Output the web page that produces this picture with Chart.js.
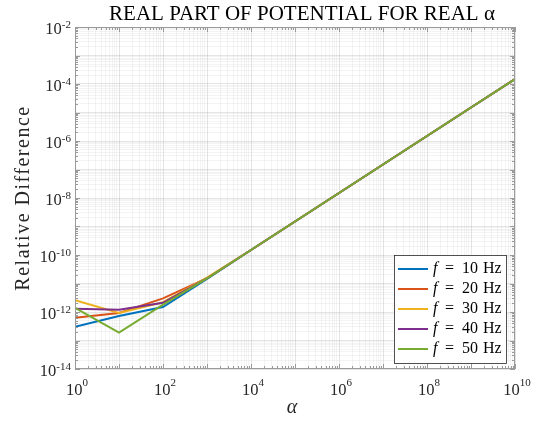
<!DOCTYPE html>
<html>
<head>
<meta charset="utf-8">
<script src="https://cdn.jsdelivr.net/npm/chart.js@4.4.1/dist/chart.umd.min.js"></script>
<style>
  html, body { margin: 0; padding: 0; background: #fff; }
  canvas { display: block; }
</style>
</head>
<body>
<canvas id="grafico" width="540" height="421"></canvas>
<script>
// datos
const alpha = [1, 10, 100, 1e3, 1e4, 1e5, 1e6, 1e7, 1e8, 1e9, 1e10];
const f10 = [3.0e-13, 7.2e-13, 1.5e-12, 1.45e-11, 1.5e-10, 1.5e-9, 1.5e-8, 1.5e-7, 1.5e-6, 1.5e-5, 1.5e-4];
const f20 = [6.3e-13, 9.3e-13, 3.0e-12, 1.55e-11, 1.5e-10, 1.5e-9, 1.5e-8, 1.5e-7, 1.5e-6, 1.5e-5, 1.5e-4];
const f30 = [2.6e-12, 9.3e-13, 2.2e-12, 1.6e-11, 1.5e-10, 1.5e-9, 1.5e-8, 1.5e-7, 1.5e-6, 1.5e-5, 1.5e-4];
const f40 = [1.3e-12, 1.2e-12, 2.1e-12, 1.5e-11, 1.5e-10, 1.5e-9, 1.5e-8, 1.5e-7, 1.5e-6, 1.5e-5, 1.5e-4];
const f50 = [1.4e-12, 1.9e-13, 1.8e-12, 1.5e-11, 1.5e-10, 1.5e-9, 1.5e-8, 1.5e-7, 1.5e-6, 1.5e-5, 1.5e-4];

const etiquetas = ['10', '20', '30', '40', '50'];
const colores = ['#0072BD', '#D95319', '#EDB120', '#7E2F8E', '#77AC30'];
const series = [f10, f20, f30, f40, f50];

const xExpLabels = [0, 2, 4, 6, 8, 10];
const yExpLabels = [-14, -12, -10, -8, -6, -4, -2];

const titulo = 'REAL PART OF POTENTIAL FOR REAL \u03b1';
const tituloY = 'Relative Difference';
const tituloX = '\u03b1';

const SERIF = '"Liberation Serif", "DejaVu Serif", serif';

// ticks log: 1..9 x 10^k
function ticksLog(kMin, kMax) {
  const t = [];
  for (let k = kMin; k < kMax; k++) {
    for (let m = 1; m <= 9; m++) t.push({ value: m * Math.pow(10, k) });
  }
  t.push({ value: Math.pow(10, kMax) });
  return t;
}

function esMayor(v) {
  const l = Math.log10(v);
  return Math.abs(l - Math.round(l)) < 1e-6;
}

const gridColor = (c) => esMayor(c.tick.value) ? 'rgba(0,0,0,0.10)' : 'rgba(0,0,0,0.045)';

// dibuja titulos, etiquetas 10^n, ticks internos y la leyenda
const decoracion = {
  id: 'decoracion',
  afterDraw(chart) {
    const { ctx, chartArea: a, scales } = chart;
    const sx = scales.x, sy = scales.y;
    ctx.save();

    // marco
    ctx.strokeStyle = '#9a9a9a';
    ctx.lineWidth = 1;
    ctx.strokeRect(a.left + 0.5, a.top + 0.5, a.right - a.left - 1, a.bottom - a.top - 1);

    // ticks internos
    ctx.beginPath();
    sx.ticks.forEach(t => {
      const px = Math.round(sx.getPixelForValue(t.value)) + 0.5;
      const len = esMayor(t.value) ? 5 : 3;
      ctx.moveTo(px, a.bottom); ctx.lineTo(px, a.bottom - len);
      ctx.moveTo(px, a.top); ctx.lineTo(px, a.top + len);
    });
    sy.ticks.forEach(t => {
      const py = Math.round(sy.getPixelForValue(t.value)) + 0.5;
      const len = esMayor(t.value) ? 5 : 3;
      ctx.moveTo(a.left, py); ctx.lineTo(a.left + len, py);
      ctx.moveTo(a.right, py); ctx.lineTo(a.right - len, py);
    });
    ctx.stroke();

    ctx.fillStyle = '#262626';
    ctx.textAlign = 'left';
    ctx.textBaseline = 'alphabetic';

    // etiquetas eje x
    xExpLabels.forEach(e => {
      const px = sx.getPixelForValue(Math.pow(10, e));
      ctx.font = '16.5px ' + SERIF;
      const wBase = ctx.measureText('10').width;
      ctx.font = '11px ' + SERIF;
      const wExp = ctx.measureText(String(e)).width;
      const x0 = px - (wBase + wExp) / 2 + 2;
      ctx.font = '16.5px ' + SERIF;
      ctx.fillText('10', x0, a.bottom + 26);
      ctx.font = '11px ' + SERIF;
      ctx.fillText(String(e), x0 + wBase, a.bottom + 17);
    });

    // etiquetas eje y
    yExpLabels.forEach(e => {
      const py = sy.getPixelForValue(Math.pow(10, e));
      const exp = String(e);
      ctx.font = '11px ' + SERIF;
      const wExp = ctx.measureText(exp).width;
      ctx.font = '16.5px ' + SERIF;
      const wBase = ctx.measureText('10').width;
      const x0 = a.left - 4 - wExp - wBase;
      ctx.fillText('10', x0, py + 6.5);
      ctx.font = '11px ' + SERIF;
      ctx.fillText(exp, x0 + wBase, py + 0.5);
    });

    // titulo
    ctx.fillStyle = '#000';
    ctx.textAlign = 'center';
    ctx.font = '21px ' + SERIF;
    ctx.fillText(titulo, (a.left + a.right) / 2 + 7, a.top - 7);

    // titulo x
    ctx.fillStyle = '#262626';
    ctx.font = 'italic 20px ' + SERIF;
    ctx.fillText(tituloX, (a.left + a.right) / 2 - 3, a.bottom + 44);

    // titulo y
    ctx.save();
    ctx.translate(29, (a.top + a.bottom) / 2);
    ctx.rotate(-Math.PI / 2);
    ctx.font = '20px ' + SERIF;
    ctx.letterSpacing = '1.5px';
    ctx.fillText(tituloY, 0, 0);
    ctx.restore();

    // leyenda
    const lx = 394, ly = 255, lw = 112, lh = 108;
    ctx.fillStyle = '#fff';
    ctx.fillRect(lx, ly, lw, lh);
    ctx.strokeStyle = '#262626';
    ctx.lineWidth = 0.8;
    ctx.strokeRect(lx + 0.5, ly + 0.5, lw, lh);
    chart.data.datasets.forEach((ds, i) => {
      const yy = ly + 14 + i * 20;
      ctx.strokeStyle = ds.borderColor;
      ctx.lineWidth = 2;
      ctx.beginPath();
      ctx.moveTo(lx + 4, yy);
      ctx.lineTo(lx + 34, yy);
      ctx.stroke();
      ctx.fillStyle = '#000';
      ctx.textAlign = 'left';
      ctx.textBaseline = 'middle';
      ctx.font = 'italic 16px ' + SERIF;
      ctx.fillText('f', lx + 39, yy);
      ctx.font = '16px ' + SERIF;
      ctx.fillText('=', lx + 51, yy);
      ctx.fillText(etiquetas[i], lx + 68, yy);
      ctx.fillText('Hz', lx + 89, yy);
    });

    ctx.restore();
  }
};

const ctx = document.getElementById('grafico').getContext('2d');

const grafico = new Chart(ctx, {
  type: 'line',
  data: {
    datasets: series.map((s, i) => ({
      label: 'f = ' + etiquetas[i] + ' Hz',
      data: alpha.map((a, j) => ({ x: a, y: s[j] })),
      borderColor: colores[i],
      backgroundColor: colores[i],
      borderWidth: 2,
      pointRadius: 0,
      tension: 0,
      fill: false,
      order: series.length - i   // la ultima serie queda arriba
    }))
  },
  options: {
    responsive: false,
    animation: false,
    layout: { padding: { left: 75, right: 25, top: 27, bottom: 52 } },
    plugins: {
      legend: { display: false },
      title: { display: false },
      tooltip: { enabled: false }
    },
    scales: {
      x: {
        type: 'logarithmic',
        min: 1,
        max: 1e10,
        afterBuildTicks: (axis) => { axis.ticks = ticksLog(0, 10); },
        ticks: { display: false },
        grid: { color: gridColor, drawTicks: false, lineWidth: 1 },
        border: { display: false }
      },
      y: {
        type: 'logarithmic',
        min: 1e-14,
        max: 1e-2,
        afterBuildTicks: (axis) => { axis.ticks = ticksLog(-14, -2); },
        ticks: { display: false },
        grid: { color: gridColor, drawTicks: false, lineWidth: 1 },
        border: { display: false }
      }
    }
  },
  plugins: [decoracion]
});
</script>
</body>
</html>
